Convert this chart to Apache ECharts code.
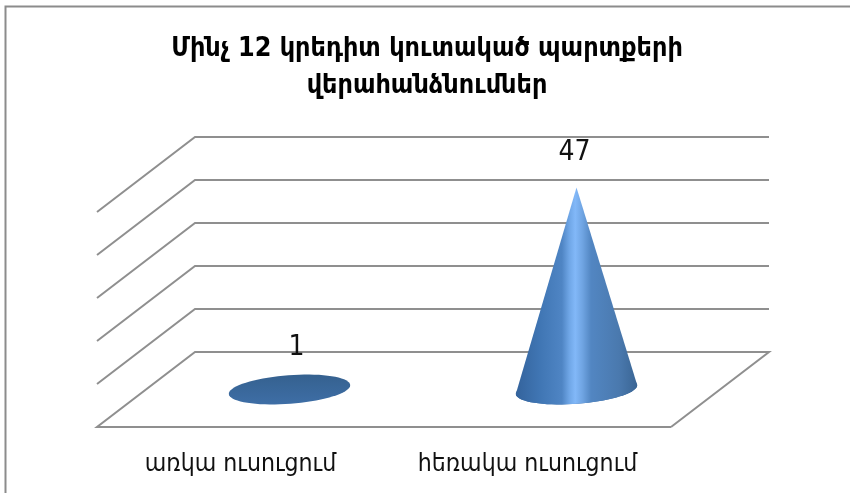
<!DOCTYPE html>
<html><head><meta charset="utf-8">
<style>html,body{margin:0;padding:0;background:#fff}#c{width:850px;height:493px}</style>
<script src="https://cdn.jsdelivr.net/npm/echarts@6/dist/echarts.min.js"></script>
</head><body><div id="c"></div>
<script>
const titleText = 'Մինչ 12 կրեդիտ կուտակած պարտքերի\nվերահանձնումներ';
const categories = ['առկա ուսուցում', 'հեռակա ուսուցում'];
const values = [1, 47];
const yTicks = [0, 10, 20, 30, 40, 50];

const DEPTH_X = 98, DEPTH_Y = -75, LINE = '#8f8f8f';
const FONT = '"DejaVu Sans Condensed", "DejaVu Sans", sans-serif';
const NUM_FONT = '"Liberation Sans Narrow", "DejaVu Sans Condensed", sans-serif';
const chart = echarts.init(document.getElementById('c'), null, {renderer: 'canvas'});

function wallItem(params, api) {
  const v = api.value(0);
  const left = api.coord([0, v]);
  const band = api.size([1, 0])[0];
  const xL = left[0] - band / 2, y = left[1];
  const xR = xL + band * 2;
  const pts = v === 0
    ? [[xR, y], [xL, y], [xL + DEPTH_X, y + DEPTH_Y], [xR + DEPTH_X, y + DEPTH_Y], [xR, y]]
    : [[xL, y], [xL + DEPTH_X, y + DEPTH_Y], [xR + DEPTH_X, y + DEPTH_Y]];
  return {type: 'polyline', shape: {points: pts}, style: {fill: null, stroke: LINE, lineWidth: 2}};
}

const labelNudge = [[7, -37], [-2, -35]];
function coneItem(params, api) {
  const i = params.dataIndex;
  const base = api.coord([i, 0]);
  const top = api.coord([i, api.value(1)]);
  const band = api.size([1, 0])[0];
  const cx = base[0] + DEPTH_X / 2, cy = base[1] + DEPTH_Y / 2;
  const ax = top[0] + DEPTH_X / 2, ay = top[1] + DEPTH_Y / 2;
  const a = band * 0.212, b = 14.3, tilt = -0.075;
  const pt = t => {
    const ex = a * Math.cos(t), ey = b * Math.sin(t);
    return [cx + ex * Math.cos(tilt) - ey * Math.sin(tilt), cy + ex * Math.sin(tilt) + ey * Math.cos(tilt)];
  };
  const full = [], lower = [];
  for (let k = 0; k < 72; k++) full.push(pt(k / 72 * Math.PI * 2));
  for (let k = 0; k <= 36; k++) lower.push(pt(k / 36 * Math.PI));
  const coneFill = new echarts.graphic.LinearGradient(0, 0, 1, 0, [
    {offset: 0, color: '#34639c'}, {offset: 0.2, color: '#4076b4'},
    {offset: 0.38, color: '#4f85c4'}, {offset: 0.44, color: '#6fa6e6'},
    {offset: 0.49, color: '#82b8f8'}, {offset: 0.55, color: '#6fa4e2'},
    {offset: 0.62, color: '#5286c2'}, {offset: 0.85, color: '#4a79ae'}, {offset: 1, color: '#3a6594'}]);
  const capFill = new echarts.graphic.LinearGradient(0, 0, 0, 1, [
    {offset: 0, color: '#35618f'}, {offset: 1, color: '#3e6ea6'}]);
  const children = [{type: 'polygon', shape: {points: full}, style: {fill: capFill}}];
  if (ay < cy - b) {
    children.push({type: 'polygon', shape: {points: lower.concat([[ax, ay]])}, style: {fill: coneFill}});
  }
  children.push({type: 'text', style: {
    text: String(api.value(1)), x: ax + labelNudge[i][0], y: ay + labelNudge[i][1],
    align: 'center', verticalAlign: 'middle', fill: '#111', fontSize: 28,
    fontFamily: NUM_FONT}});
  return {type: 'group', children};
}

chart.setOption({
  animation: false,
  backgroundColor: '#fff',
  title: {
    text: titleText, left: 422, top: 26, textAlign: 'center',
    textStyle: {fontSize: 26.7, fontWeight: 'bold', color: '#000', lineHeight: 37, fontFamily: FONT}
  },
  grid: {left: 97, width: 574, top: 212, height: 215},
  xAxis: {
    type: 'category', data: categories,
    axisLine: {show: false}, axisTick: {show: false},
    axisLabel: {color: '#111', fontSize: 24.6, margin: 25, interval: 0, hideOverlap: false, fontFamily: FONT}
  },
  yAxis: {
    type: 'value', min: 0, max: 50, interval: 10,
    axisLine: {show: false}, axisTick: {show: false}, axisLabel: {show: false}, splitLine: {show: false}
  },
  graphic: [{
    type: 'polyline', silent: true,
    shape: {points: [[5.5, 493], [5.5, 6.5], [850, 6.5]]},
    style: {fill: null, stroke: '#8c8c8c', lineWidth: 2}
  }],
  series: [
    {type: 'custom', renderItem: wallItem, coordinateSystem: 'cartesian2d',
     encode: {y: 0}, data: yTicks.map(v => [v]), silent: true, z: 1,
     dimensions: ['v']},
    {type: 'custom', renderItem: coneItem, coordinateSystem: 'cartesian2d',
     encode: {x: 0, y: 1}, data: values.map((v, i) => [i, v]), z: 2}
  ]
});
</script></body></html>
